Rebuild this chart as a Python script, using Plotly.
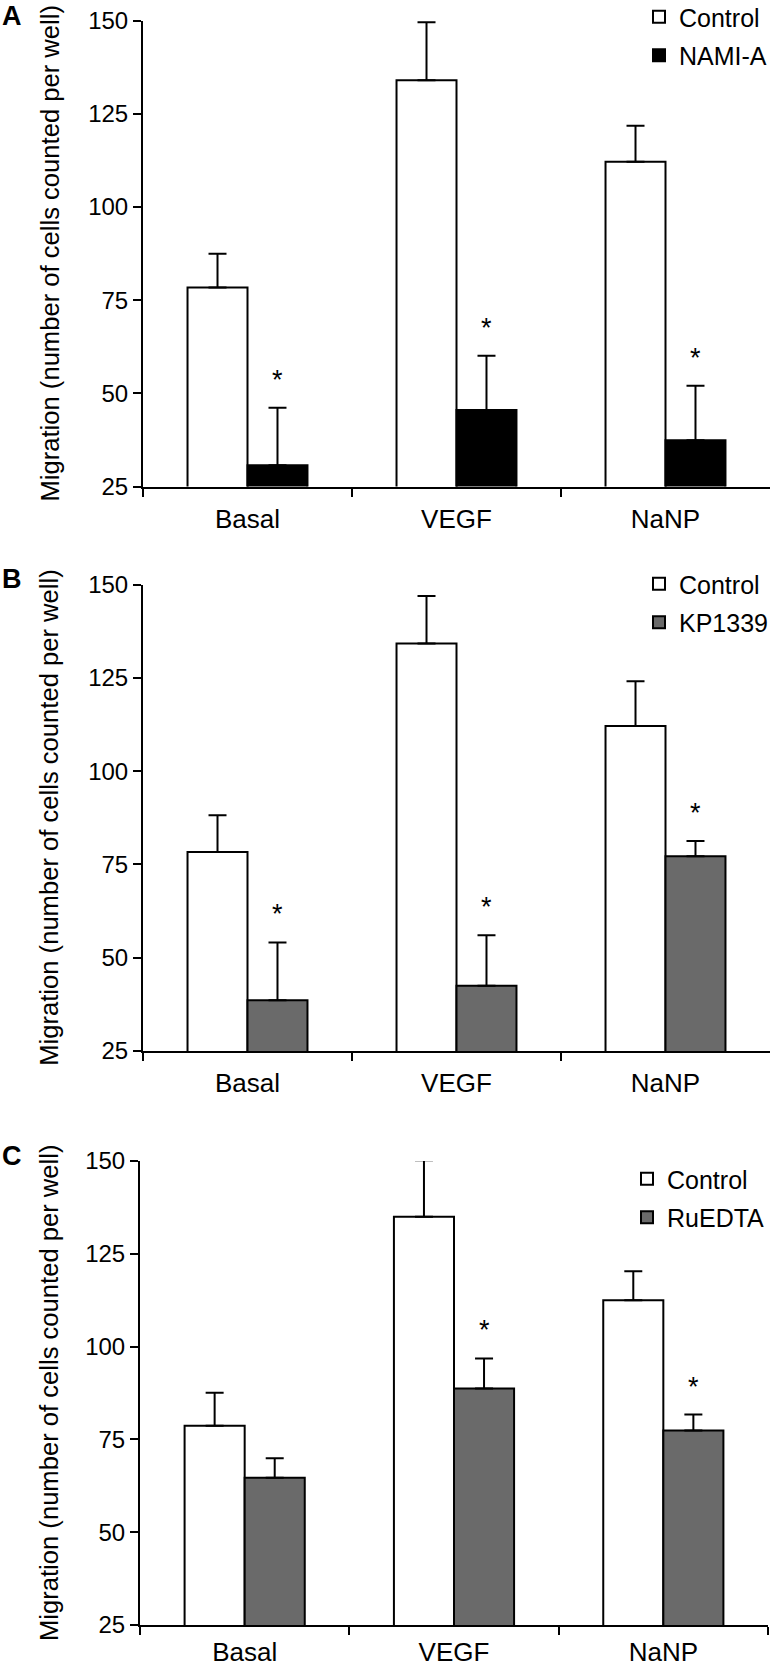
import plotly.graph_objects as go

# ---------------- data ----------------
categories = ["Basal", "VEGF", "NaNP"]

# Panel A
a_control = [78.4, 134.0, 112.1]
a_control_err = [9.0, 15.5, 9.7]
a_nami = [30.7, 45.5, 37.4]
a_nami_err = [15.4, 14.6, 14.6]
a_star = [True, True, True]

# Panel B
b_control = [78.3, 134.2, 112.1]
b_control_err = [9.9, 12.7, 12.0]
b_kp = [38.6, 42.5, 77.2]
b_kp_err = [15.5, 13.5, 4.1]
b_star = [True, True, True]

# Panel C
c_control = [78.7, 135.0, 112.5]
c_control_err = [8.9, 15.2, 7.8]
c_ru = [64.7, 88.7, 77.4]
c_ru_err = [5.2, 8.1, 4.3]
c_star = [False, True, True]

y_ticks = [25, 50, 75, 100, 125, 150]
y_title = "Migration (number of cells counted per well)"

# ---------------- layout constants ----------------
W, H = 774, 1673
FONT = "Liberation Sans, Arial, Helvetica, sans-serif"
GRAY = "#6a6a6a"

panels = [
    dict(letter="A", treat="NAMI-A", color="black",
         ctrl=a_control, ctrl_err=a_control_err, tr=a_nami, tr_err=a_nami_err, star=a_star,
         x0=143, x1=770, ytop=20.5, ybot=486.5, legx=639, legy=-6, lety=16.5, stand=8),
    dict(letter="B", treat="KP1339", color=GRAY,
         ctrl=b_control, ctrl_err=b_control_err, tr=b_kp, tr_err=b_kp_err, star=b_star,
         x0=143, x1=770, ytop=584.5, ybot=1051, legx=639, legy=561, lety=579, stand=8),
    dict(letter="C", treat="RuEDTA", color=GRAY,
         ctrl=c_control, ctrl_err=c_control_err, tr=c_ru, tr_err=c_ru_err, star=c_star,
         x0=140, x1=768, ytop=1161, ybot=1625, legx=627, legy=1156, lety=1156, stand=3),
]

fig = go.Figure()
annotations = []
layout = dict(
    width=W, height=H, autosize=False,
    margin=dict(l=0, r=0, t=0, b=0, autoexpand=False),
    paper_bgcolor="white", plot_bgcolor="white",
    font=dict(family=FONT, color="black"),
    barmode="group", bargap=0.426, bargroupgap=0,
)

for i, p in enumerate(panels):
    n = "" if i == 0 else str(i + 1)
    xa, ya = "x" + n, "y" + n
    leg = "legend" + n
    err_common = dict(type="data", symmetric=False, arrayminus=[0, 0, 0],
                      thickness=2, width=9, color="black", visible=True)
    fig.add_trace(go.Bar(
        x=categories, y=p["ctrl"], name="Control", xaxis=xa, yaxis=ya, legend=leg,
        legendgroup="c" + n,
        marker=dict(color="white", line=dict(color="black", width=2)),
        error_y=dict(array=p["ctrl_err"], **err_common), offsetgroup="c",
    ))
    fig.add_trace(go.Bar(
        x=categories, y=p["tr"], name=p["treat"], xaxis=xa, yaxis=ya, legend=leg,
        legendgroup="t" + n,
        marker=dict(color=p["color"], line=dict(color="black", width=2)),
        error_y=dict(array=p["tr_err"], **err_common), offsetgroup="t",
    ))

    xdom = [p["x0"] / W, p["x1"] / W]
    ydom = [1 - p["ybot"] / H, 1 - p["ytop"] / H]
    layout["xaxis" + n] = dict(
        domain=xdom, anchor=ya, type="category", range=[-0.5, 2.5],
        showline=True, linecolor="black", linewidth=2, showgrid=False,
        ticks="outside", tickson="boundaries", ticklen=8, tickwidth=2, tickcolor="black",
        tickfont=dict(size=26, family=FONT, color="black"), zeroline=False,
        ticklabelstandoff=p["stand"], fixedrange=True,
    )
    layout["yaxis" + n] = dict(
        domain=ydom, anchor=xa, range=[25, 150], tickvals=y_ticks,
        showline=True, linecolor="black", linewidth=2, showgrid=False,
        ticks="outside", ticklen=8, tickwidth=2, tickcolor="black",
        tickfont=dict(size=24, family=FONT, color="black"), zeroline=False,
        fixedrange=True,
    )
    layout[leg] = dict(
        x=p["legx"] / W, xanchor="left", y=1 - p["legy"] / H, yanchor="top",
        bgcolor="rgba(0,0,0,0)", borderwidth=0,
        font=dict(size=25, family=FONT, color="black"),
        itemsizing="constant", tracegroupgap=3,
    )
    # y-axis title
    annotations.append(dict(
        text=y_title, textangle=-90, showarrow=False,
        xref="paper", yref="paper", x=49 / W, xanchor="center",
        y=(ydom[0] + ydom[1]) / 2, yanchor="middle",
        font=dict(size=25.6, family=FONT, color="black"),
    ))
    # panel letter
    annotations.append(dict(
        text="<b>" + p["letter"] + "</b>", showarrow=False,
        xref="paper", yref="paper", x=0, xanchor="left",
        y=1 - p["lety"] / H, yanchor="middle",
        font=dict(size=27, family=FONT, color="black"),
    ))
    # significance stars
    for cat, v, e, s in zip(categories, p["tr"], p["tr_err"], p["star"]):
        if s:
            annotations.append(dict(
                text="*", showarrow=False, xref=xa, yref=ya,
                x=cat, xshift=30, y=v + e, yanchor="bottom", yshift=11,
                font=dict(size=27, family=FONT, color="black"),
            ))

layout["annotations"] = annotations
layout["showlegend"] = True
fig.update_layout(**layout)
fig.write_html("out.html", config={"displayModeBar": False},
               post_script="document.body.style.margin='0px';")
